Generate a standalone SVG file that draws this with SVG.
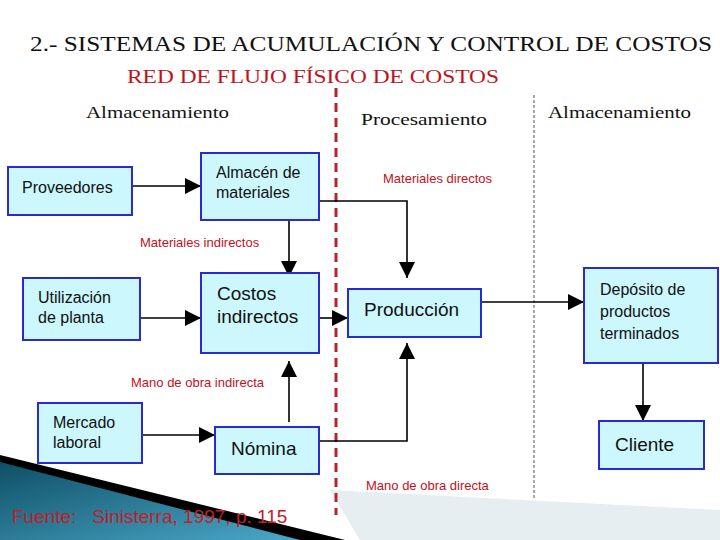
<svg xmlns="http://www.w3.org/2000/svg" width="720" height="540" viewBox="0 0 720 540">
<defs>
<style>
.box{fill:#ccf7fc;stroke:#2a2ad0;stroke-width:2}
.t{font-family:"Liberation Sans",Arial,sans-serif;font-size:16px;fill:#111}
.tb{font-family:"Liberation Sans",Arial,sans-serif;font-size:19px;fill:#111}
.lbl{font-family:"Liberation Sans",Arial,sans-serif;font-size:13px;fill:#c0121a}
.hd{font-family:"Liberation Serif","Times New Roman",serif;fill:#111}
.c{fill:none;stroke:#000;stroke-width:1.6}
</style>
<marker id="b" viewBox="0 0 10 10" refX="10" refY="5" markerWidth="16" markerHeight="16" markerUnits="userSpaceOnUse" orient="auto"><path d="M0,0L10,5L0,10z" fill="#000"/></marker>
<linearGradient id="g" x1="0" y1="0" x2="1" y2="1"><stop offset="0" stop-color="#0f4f66"/><stop offset="1" stop-color="#4aa8c8"/></linearGradient>
</defs>
<rect width="720" height="540" fill="#fff"/>
<polygon points="330,490 720,510 720,540 360,540" fill="#e6eef2"/>
<polygon points="0,455 345,540 0,540" fill="#000"/>
<polygon points="0,462 300,540 0,540" fill="url(#g)"/>
<text class="hd" x="30" y="51" font-size="21" textLength="682" lengthAdjust="spacingAndGlyphs">2.- SISTEMAS DE ACUMULACIÓN Y CONTROL DE COSTOS</text>
<text class="hd" x="127" y="83" font-size="19" style="fill:#c0121a" textLength="372" lengthAdjust="spacingAndGlyphs">RED DE FLUJO FÍSICO DE COSTOS</text>
<text class="hd" x="86" y="118" font-size="17" textLength="143" lengthAdjust="spacingAndGlyphs">Almacenamiento</text>
<text class="hd" x="361" y="125" font-size="17" textLength="126" lengthAdjust="spacingAndGlyphs">Procesamiento</text>
<text class="hd" x="548" y="118" font-size="17" textLength="143" lengthAdjust="spacingAndGlyphs">Almacenamiento</text>
<line x1="336" y1="88" x2="336" y2="515" stroke="#b3262a" stroke-width="3" stroke-dasharray="9,6"/>
<line x1="534" y1="95" x2="534" y2="500" stroke="#555" stroke-width="1" stroke-dasharray="3,2"/>
<g id="connectors">
<line class="c" x1="132" y1="186" x2="201" y2="186" marker-end="url(#b)"/>
<line class="c" x1="289" y1="220" x2="289" y2="277" marker-end="url(#b)"/>
<polyline class="c" points="319,201 407,201 407,278" marker-end="url(#b)"/>
<line class="c" x1="140" y1="318" x2="201" y2="318" marker-end="url(#b)"/>
<line class="c" x1="319" y1="318" x2="348" y2="318" marker-end="url(#b)"/>
<line class="c" x1="481" y1="302" x2="584" y2="302" marker-end="url(#b)"/>
<line class="c" x1="643" y1="363" x2="643" y2="421" marker-end="url(#b)"/>
<line class="c" x1="142" y1="435" x2="215" y2="435" marker-end="url(#b)"/>
<line class="c" x1="289" y1="422" x2="289" y2="361" marker-end="url(#b)"/>
<polyline class="c" points="319,441 407,441 407,343" marker-end="url(#b)"/>
</g>
<text class="lbl" x="383" y="183">Materiales directos</text>
<text class="lbl" x="140" y="247">Materiales indirectos</text>
<text class="lbl" x="131" y="387">Mano de obra indirecta</text>
<text class="lbl" x="366" y="490">Mano de obra directa</text>
<g id="proveedores"><rect class="box" x="8" y="167" width="124" height="48"/><text class="t" x="22" y="193">Proveedores</text></g>
<g id="almacen"><rect class="box" x="201" y="153" width="118" height="67"/><text class="t" x="216" y="178">Almacén de</text><text class="t" x="216" y="198">materiales</text></g>
<g id="utilizacion"><rect class="box" x="23" y="278" width="117" height="62"/><text class="t" x="38" y="303">Utilización</text><text class="t" x="38" y="323">de planta</text></g>
<g id="costos"><rect class="box" x="201" y="273" width="118" height="80"/><text class="tb" x="217" y="300">Costos</text><text class="tb" x="217" y="323">indirectos</text></g>
<g id="mercado"><rect class="box" x="38" y="403" width="104" height="60"/><text class="t" x="53" y="428">Mercado</text><text class="t" x="53" y="448">laboral</text></g>
<g id="nomina"><rect class="box" x="215" y="427" width="104" height="47"/><text class="tb" x="231" y="455">Nómina</text></g>
<g id="produccion"><rect class="box" x="348" y="289" width="133" height="48"/><text class="tb" x="364" y="316">Producción</text></g>
<g id="deposito"><rect class="box" x="584" y="268" width="134" height="95"/><text class="t" x="600" y="295" font-size="18">Depósito de</text><text class="t" x="600" y="317" font-size="18">productos</text><text class="t" x="600" y="339" font-size="18">terminados</text></g>
<g id="cliente"><rect class="box" x="599" y="421" width="105" height="48"/><text class="tb" x="615" y="451">Cliente</text></g>
<text x="12" y="523" font-family="Liberation Sans,Arial,sans-serif" font-size="19" fill="#c0202a" xml:space="preserve">Fuente:   Sinisterra, 1997, p. 115</text>
</svg>
